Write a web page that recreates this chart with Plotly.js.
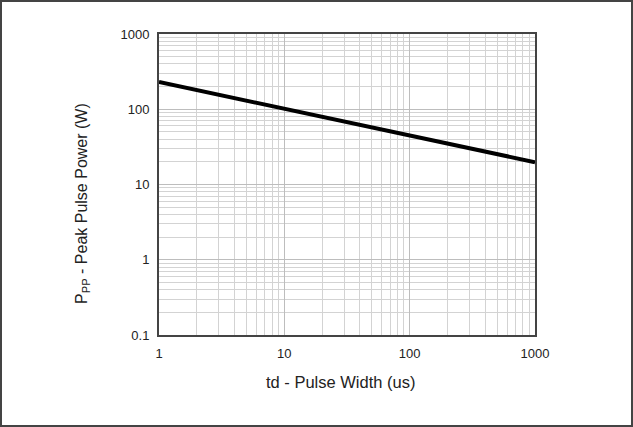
<!DOCTYPE html>
<html>
<head>
<meta charset="utf-8">
<script src="https://cdn.plot.ly/plotly-3.0.1.min.js"></script>
<style>html,body{margin:0;padding:0;background:#fff;}#chart{width:633px;height:427px;}</style>
</head>
<body>
<div id="chart"></div>
<script>
// Data
const pulseWidth = [1, 2, 3, 5, 10, 20, 50, 100, 200, 500, 1000];
const peakPower = [230, 180, 155, 128, 100, 79, 57, 45, 35.5, 25.5, 19.8];
const xTickVals = [1, 10, 100, 1000];
const xTickText = ['1', '10', '100', '1000'];
const yTickVals = [0.1, 1, 10, 100, 1000];
const yTickText = ['0.1', '1', '10', '100', '1000'];
const xTitle = 'td - Pulse Width (us)';
const yTitle = 'P<sub>PP</sub> - Peak Pulse Power (W)';

const W = 633, H = 427;
const M = {l: 159, r: 98, t: 34, b: 92};
const pw = W - M.l - M.r, ph = H - M.t - M.b;
const px = v => (v - M.l) / pw;          // pixel x -> paper x
const py = v => (M.t + ph - v) / ph;     // pixel y -> paper y

const trace = {
  x: pulseWidth, y: peakPower, type: 'scatter', mode: 'lines',
  line: {color: '#000', width: 4}, hoverinfo: 'skip'
};

const fam = 'Liberation Sans, Arial, sans-serif';

const axisCommon = {
  type: 'log',
  ticks: 'outside', ticklen: 5, tickcolor: 'rgba(0,0,0,0)',
  showline: true, linecolor: '#444', linewidth: 2, mirror: true,
  showgrid: true, gridcolor: '#bdbdbd', gridwidth: 1,
  minor: {showgrid: true, gridcolor: '#d3d3d3', gridwidth: 1, dtick: 'D1'},
  zeroline: false, tickfont: {family: fam, size: 13, color: '#222'}
};

const layout = {
  width: W, height: H,
  margin: M,
  paper_bgcolor: '#fff', plot_bgcolor: '#fff',
  showlegend: false,
  font: {family: fam, size: 13, color: '#222'},
  xaxis: Object.assign({}, axisCommon, {range: [0, 3], tickvals: xTickVals, ticktext: xTickText}),
  yaxis: Object.assign({}, axisCommon, {range: [-1, 3], tickvals: yTickVals, ticktext: yTickText}),
  annotations: [
    {text: xTitle, xref: 'paper', yref: 'paper', x: px(340), y: py(382),
     xanchor: 'center', yanchor: 'middle', showarrow: false,
     font: {family: fam, size: 16.5, color: '#222'}},
    {text: yTitle, xref: 'paper', yref: 'paper', x: px(83), y: py(204),
     xanchor: 'center', yanchor: 'middle', showarrow: false, textangle: -90,
     font: {family: fam, size: 16, color: '#222'}}
  ],
  shapes: [{
    type: 'rect', xref: 'paper', yref: 'paper',
    x0: px(1), x1: px(W - 1), y0: py(H - 1), y1: py(1),
    line: {color: '#444', width: 2}, fillcolor: 'rgba(0,0,0,0)'
  }]
};

Plotly.newPlot('chart', [trace], layout, {staticPlot: true, displayModeBar: false});
</script>
</body>
</html>
